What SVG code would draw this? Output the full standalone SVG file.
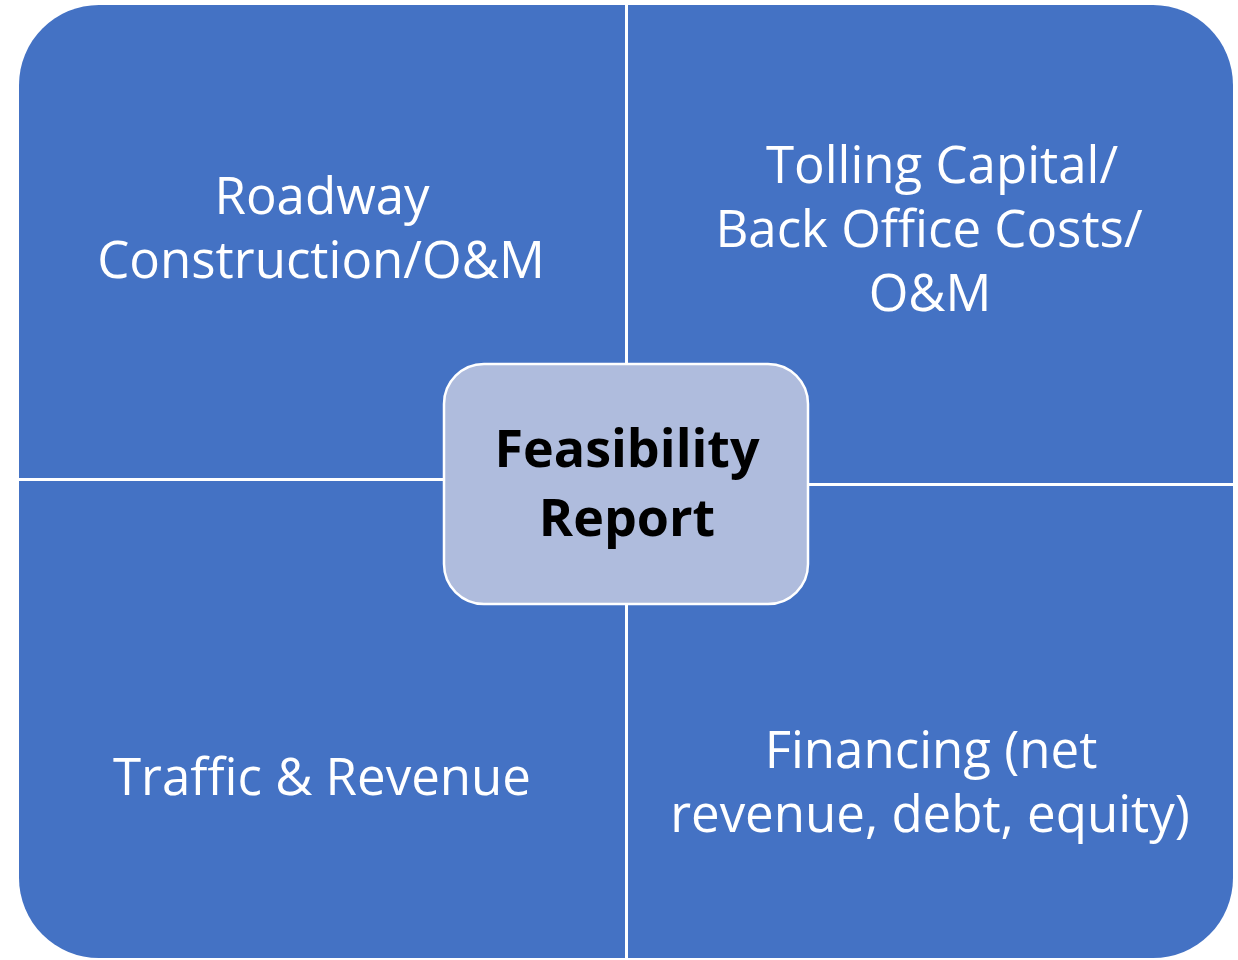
<svg xmlns="http://www.w3.org/2000/svg" width="1238" height="960" viewBox="0 0 1238 960">
<style>
.q{fill:#4472C4;}
.t{fill:#FFFFFF;font-family:"Open Sans","Noto Sans",sans-serif;font-size:51px;text-anchor:middle;}
.c{fill:#000000;font-family:"Open Sans","Noto Sans",sans-serif;font-size:52px;font-weight:bold;text-anchor:middle;}
</style>
<rect width="1238" height="960" fill="#FFFFFF"/>
<g id="q-roadway">
<path class="q" d="M19,478 V85 A80,80 0 0 1 99,5 H625 V478 Z"/>
<text class="t" x="322" y="214">Roadway</text>
<text class="t" x="321" y="278">Construction/O&amp;M</text>
</g>
<g id="q-tolling">
<path class="q" d="M628,5 H1153 A80,80 0 0 1 1233,85 V483 H628 Z"/>
<text class="t" x="942" y="183">Tolling Capital/</text>
<text class="t" x="929" y="247">Back Office Costs/</text>
<text class="t" x="930" y="311">O&amp;M</text>
</g>
<g id="q-traffic">
<path class="q" d="M19,481 H625 V958 H99 A80,80 0 0 1 19,878 Z"/>
<text class="t" x="322" y="795">Traffic &amp; Revenue</text>
</g>
<g id="q-financing">
<path class="q" d="M628,486 H1233 V878 A80,80 0 0 1 1153,958 H628 Z"/>
<text class="t" x="931" y="768">Financing (net</text>
<text class="t" x="930" y="832">revenue, debt, equity)</text>
</g>
<g id="center">
<rect x="444" y="364" width="364" height="240" rx="40" ry="40" fill="#AFBCDD" stroke="#FFFFFF" stroke-width="2.5"/>
<text class="c" x="627" y="467">Feasibility</text>
<text class="c" x="627" y="536">Report</text>
</g>
<g id="connectors"></g>
</svg>
